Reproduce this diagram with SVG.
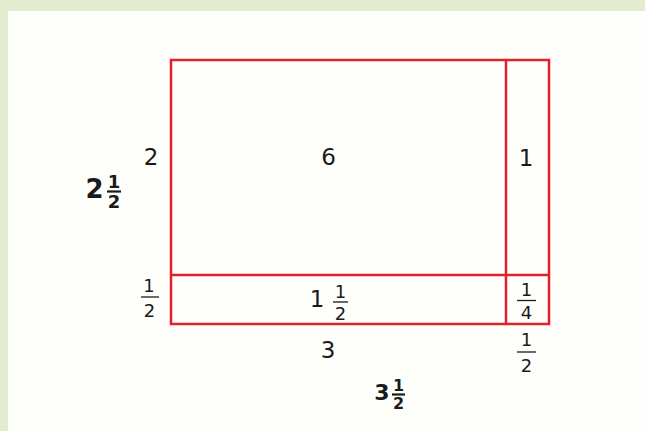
<svg xmlns="http://www.w3.org/2000/svg" width="645" height="431" viewBox="0 0 645 431">
<style>
.bg{fill:#fefefb}
.frame{fill:#e3ebd0}
.box{fill:none;stroke:#e3212b;stroke-width:2.5}
.t{font-family:"DejaVu Sans","Liberation Sans",sans-serif;fill:#1a1a1a;text-anchor:middle}
.big{font-size:23px}
.fr{font-size:18px}
.b{font-weight:bold}
.bar{stroke:#1a1a1a;stroke-width:1.3}
.bbar{stroke:#1a1a1a;stroke-width:2.2}
</style>
<rect class="bg" x="0" y="0" width="645" height="431"/>
<rect class="frame" x="0" y="0" width="645" height="11"/>
<rect class="frame" x="0" y="0" width="8" height="431"/>
<g id="connectors">
<rect class="box" x="171" y="60" width="378" height="264"/>
<line class="box" x1="506" y1="60" x2="506" y2="324"/>
<line class="box" x1="171" y1="275" x2="549" y2="275"/>
</g>
<g id="region-6"><text class="t big" x="328.5" y="165">6</text></g>
<g id="region-1"><text class="t big" x="526" y="166">1</text></g>
<g id="region-1-1-2">
<text class="t big" x="317" y="307">1</text>
<text class="t fr" x="340.5" y="298">1</text>
<line class="bar" x1="333" y1="302" x2="348" y2="302"/>
<text class="t fr" x="340.5" y="320">2</text>
</g>
<g id="region-1-4">
<text class="t fr" x="526.5" y="296">1</text>
<line class="bar" x1="517" y1="300.5" x2="536" y2="300.5"/>
<text class="t fr" x="526.5" y="319">4</text>
</g>
<g id="label-2"><text class="t big" x="151" y="165">2</text></g>
<g id="label-half-left">
<text class="t fr" x="149" y="292">1</text>
<line class="bar" x1="141" y1="297" x2="159" y2="297"/>
<text class="t fr" x="149.5" y="317">2</text>
</g>
<g id="label-3"><text class="t big" x="328" y="358">3</text></g>
<g id="label-half-bottom">
<text class="t fr" x="526.5" y="346">1</text>
<line class="bar" x1="517" y1="352" x2="536" y2="352"/>
<text class="t fr" x="526.5" y="372">2</text>
</g>
<g id="label-2-1-2">
<text class="t b" style="font-size:26px" x="94.5" y="198">2</text>
<text class="t b" style="font-size:18px" x="114" y="188">1</text>
<line class="bbar" x1="107" y1="191.5" x2="121" y2="191.5"/>
<text class="t b" style="font-size:18px" x="114" y="207.5">2</text>
</g>
<g id="label-3-1-2">
<text class="t b" style="font-size:22px" x="382" y="400">3</text>
<text class="t b" style="font-size:16px" x="398.5" y="391">1</text>
<line class="bbar" x1="392" y1="394.5" x2="405" y2="394.5"/>
<text class="t b" style="font-size:16px" x="398.5" y="409">2</text>
</g>
</svg>
